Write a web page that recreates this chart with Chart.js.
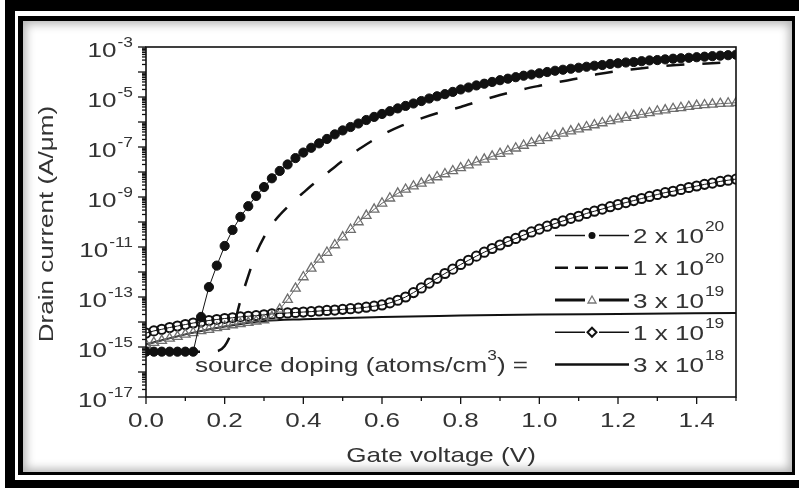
<!DOCTYPE html>
<html>
<head>
<meta charset="utf-8">
<script src="https://cdn.jsdelivr.net/npm/chart.js@4.4.1/dist/chart.umd.min.js"></script>
<style>
html,body{margin:0;padding:0;background:#fff;}
#wrap{position:relative;width:799px;height:488px;overflow:hidden;background:#fff;}
#outer{position:absolute;left:5px;top:0;width:794px;height:488px;box-sizing:border-box;border-top:11px solid #000;border-left:10px solid #000;border-bottom:8px solid #000;}
#inner{position:absolute;left:18px;top:16px;width:777px;height:459px;box-sizing:border-box;border-style:solid;border-color:#000;border-width:5px 3px 3px 5px;box-shadow:inset 0 0 10px 3px rgba(0,0,0,0.3);}
#chart{position:absolute;left:0;top:0;}
</style>
</head>
<body>
<div id="wrap">
  <div id="outer"></div>
  <div id="inner"></div>
  <canvas id="chart" width="799" height="488"></canvas>
</div>
<script>
// gate voltage grid (V) for the marker curves
const vGrid = [
  0, 0.02, 0.04, 0.06, 0.08, 0.1, 0.12, 0.14, 0.16, 0.18,
  0.2, 0.22, 0.24, 0.26, 0.28, 0.3, 0.32, 0.34, 0.36, 0.38,
  0.4, 0.42, 0.44, 0.46, 0.48, 0.5, 0.52, 0.54, 0.56, 0.58,
  0.6, 0.62, 0.64, 0.66, 0.68, 0.7, 0.72, 0.74, 0.76, 0.78,
  0.8, 0.82, 0.84, 0.86, 0.88, 0.9, 0.92, 0.94, 0.96, 0.98,
  1.0, 1.02, 1.04, 1.06, 1.08, 1.1, 1.12, 1.14, 1.16, 1.18,
  1.2, 1.22, 1.24, 1.26, 1.28, 1.3, 1.32, 1.34, 1.36, 1.38,
  1.4, 1.42, 1.44, 1.46, 1.48, 1.5
];
// drain current (A/um), source doping 2e20
const doping2e20 = [
  6.5e-16, 6.5e-16, 6.5e-16, 6.5e-16, 6.5e-16, 6.5e-16, 6.5e-16, 1.6e-14, 2.5e-13, 1.8e-12,
  1.1e-11, 4.8e-11, 1.6e-10, 4.3e-10, 1.1e-9, 2.5e-9, 5.6e-9, 1.1e-8, 2.0e-8, 3.6e-8,
  6.0e-8, 9.3e-8, 1.4e-7, 2.1e-7, 3.2e-7, 4.6e-7, 6.3e-7, 8.7e-7, 1.2e-6, 1.6e-6,
  2.1e-6, 2.7e-6, 3.5e-6, 4.4e-6, 5.5e-6, 6.9e-6, 8.7e-6, 1.07e-5, 1.3e-5, 1.6e-5,
  2.0e-5, 2.4e-5, 2.9e-5, 3.4e-5, 4.0e-5, 4.7e-5, 5.4e-5, 6.2e-5, 7.1e-5, 7.9e-5,
  8.9e-5, 1.0e-4, 1.12e-4, 1.23e-4, 1.35e-4, 1.48e-4, 1.62e-4, 1.78e-4, 1.9e-4, 2.1e-4,
  2.24e-4, 2.4e-4, 2.5e-4, 2.7e-4, 2.9e-4, 3.0e-4, 3.2e-4, 3.4e-4, 3.55e-4, 3.7e-4,
  3.9e-4, 4.1e-4, 4.3e-4, 4.5e-4, 4.7e-4, 4.9e-4
];
// source doping 3e19 (triangles)
const doping3e19 = [
  1.26e-15, 1.5e-15, 1.8e-15, 2.2e-15, 2.6e-15, 3.2e-15, 3.7e-15, 4.4e-15, 5.0e-15, 5.8e-15,
  6.6e-15, 7.6e-15, 8.5e-15, 9.5e-15, 1.07e-14, 1.2e-14, 1.6e-14, 3.2e-14, 7.9e-14, 2.2e-13,
  6.3e-13, 1.4e-12, 3.2e-12, 6.0e-12, 1.2e-11, 2.5e-11, 5.0e-11, 1.0e-10, 1.8e-10, 3.2e-10,
  5.6e-10, 8.9e-10, 1.4e-9, 2.0e-9, 2.7e-9, 3.5e-9, 4.7e-9, 6.3e-9, 8.3e-9, 1.1e-8,
  1.45e-8, 1.9e-8, 2.5e-8, 3.2e-8, 4.2e-8, 5.4e-8, 6.9e-8, 8.9e-8, 1.15e-7, 1.45e-7,
  1.8e-7, 2.3e-7, 2.8e-7, 3.5e-7, 4.3e-7, 5.2e-7, 6.3e-7, 7.6e-7, 9.1e-7, 1.1e-6,
  1.3e-6, 1.5e-6, 1.8e-6, 2.0e-6, 2.3e-6, 2.7e-6, 3.0e-6, 3.4e-6, 3.7e-6, 4.1e-6,
  4.5e-6, 4.8e-6, 5.1e-6, 5.4e-6, 5.6e-6, 5.9e-6
];
// source doping 1e19 (open circles)
const doping1e19 = [
  3.6e-15, 4.4e-15, 5.1e-15, 6.0e-15, 6.9e-15, 7.9e-15, 9.1e-15, 1.02e-14, 1.15e-14, 1.26e-14,
  1.38e-14, 1.48e-14, 1.6e-14, 1.7e-14, 1.8e-14, 1.95e-14, 2.1e-14, 2.2e-14, 2.3e-14, 2.4e-14,
  2.5e-14, 2.6e-14, 2.75e-14, 2.9e-14, 3.0e-14, 3.2e-14, 3.4e-14, 3.6e-14, 3.9e-14, 4.3e-14,
  4.8e-14, 5.8e-14, 7.4e-14, 1.0e-13, 1.5e-13, 2.3e-13, 3.6e-13, 5.6e-13, 8.7e-13, 1.3e-12,
  2.0e-12, 2.95e-12, 4.3e-12, 6.2e-12, 8.7e-12, 1.2e-11, 1.66e-11, 2.2e-11, 3.0e-11, 4.0e-11,
  5.2e-11, 6.8e-11, 8.7e-11, 1.1e-10, 1.4e-10, 1.7e-10, 2.2e-10, 2.7e-10, 3.3e-10, 4.1e-10,
  5.0e-10, 6.0e-10, 7.2e-10, 8.7e-10, 1.05e-9, 1.26e-9, 1.5e-9, 1.7e-9, 2.0e-9, 2.4e-9,
  2.75e-9, 3.2e-9, 3.6e-9, 4.2e-9, 4.7e-9, 5.2e-9
];
// source doping 1e20 (dashed, no markers)
const vDash = [
  0, 0.16, 0.18, 0.2, 0.22, 0.24, 0.26, 0.28, 0.3, 0.32,
  0.34, 0.36, 0.38, 0.4, 0.42, 0.44, 0.46, 0.48, 0.5, 0.55,
  0.6, 0.65, 0.7, 0.75, 0.8, 0.85, 0.9, 0.95, 1.0, 1.05,
  1.1, 1.15, 1.2, 1.25, 1.3, 1.35, 1.4, 1.45, 1.5
];
const doping1e20 = [
  6.5e-16, 6.5e-16, 6.8e-16, 1.1e-15, 5.0e-15, 7.0e-14, 7.0e-13, 5.6e-12, 2.5e-11, 7.9e-11,
  1.9e-10, 4.0e-10, 8.0e-10, 1.5e-9, 2.8e-9, 5.0e-9, 8.9e-9, 1.6e-8, 2.8e-8, 1.0e-7,
  3.0e-7, 7.1e-7, 1.4e-6, 2.5e-6, 4.0e-6, 7.1e-6, 1.2e-5, 1.9e-5, 2.8e-5, 4.0e-5,
  5.6e-5, 8.3e-5, 1.1e-4, 1.35e-4, 1.66e-4, 1.9e-4, 2.1e-4, 2.3e-4, 2.45e-4
];
// source doping 3e18 (solid line)
const vSolid = [0, 0.1, 0.2, 0.3, 0.4, 0.6, 0.8, 1.0, 1.2, 1.5];
const doping3e18 = [1.26e-15, 3.2e-15, 6.6e-15, 1.1e-14, 1.3e-14, 1.6e-14, 1.8e-14, 2.0e-14, 2.1e-14, 2.3e-14];

// axes
const xTicks = [0, 0.2, 0.4, 0.6, 0.8, 1.0, 1.2, 1.4];
const xTickLabels = ['0.0', '0.2', '0.4', '0.6', '0.8', '1.0', '1.2', '1.4'];
const xMinor = [0.1, 0.3, 0.5, 0.7, 0.9, 1.1, 1.3, 1.5];
const yLabelExps = [-3, -5, -7, -9, -11, -13, -15, -17];
const yDecades = [-17, -16, -15, -14, -13, -12, -11, -10, -9, -8, -7, -6, -5, -4, -3];
const legendBase = ['2 x 10', '1 x 10', '3 x 10', '1 x 10', '3 x 10'];
const legendExp = ['20', '20', '19', '19', '18'];

const FONT = '"Liberation Sans", Arial, Helvetica, sans-serif';
const SX = 1.24;    // the original lettering is a wide sans
const INK = '#333';

function wtext(ctx, s, x, y, size, align){
    ctx.save();
    ctx.font = size + 'px ' + FONT;
    const w = ctx.measureText(s).width * SX;
    let x0 = x;
    if(align === 'right') x0 = x - w;
    if(align === 'center') x0 = x - w/2;
    ctx.translate(x0, y); ctx.scale(SX, 1);
    ctx.textAlign = 'left'; ctx.textBaseline = 'alphabetic';
    ctx.fillText(s, 0, 0);
    ctx.restore();
    return w;
}
function tw(ctx, s, size){ ctx.save(); ctx.font = size + 'px ' + FONT; const w = ctx.measureText(s).width * SX; ctx.restore(); return w; }
function seg(ctx, x1, y1, x2, y2){ ctx.beginPath(); ctx.moveTo(x1, y1); ctx.lineTo(x2, y2); ctx.stroke(); }

const decoPlugin = {
    id: 'deco',
    afterDraw(chart){
        const {ctx, chartArea: a, scales: {x, y}} = chart;
        ctx.save();
        ctx.strokeStyle = '#111'; ctx.fillStyle = INK;

        // frame
        ctx.lineWidth = 1.6;
        ctx.strokeRect(a.left, a.top, a.right - a.left, a.bottom - a.top);

        // y ticks, outward
        ctx.lineWidth = 1.3;
        yDecades.forEach(e => {
            const p = y.getPixelForValue(Math.pow(10, e));
            seg(ctx, a.left - 8, p, a.left, p);
            if(e < -3) for(let k = 2; k <= 9; k++){
                const q = y.getPixelForValue(k * Math.pow(10, e));
                seg(ctx, a.left - 4, q, a.left, q);
            }
        });
        // x ticks
        xTicks.forEach(v => { const p = x.getPixelForValue(v); seg(ctx, p, a.bottom, p, a.bottom + 7); });
        xMinor.forEach(v => { const p = x.getPixelForValue(v); seg(ctx, p, a.bottom, p, a.bottom + 4); });

        // tick labels
        yLabelExps.forEach(e => {
            const p = y.getPixelForValue(Math.pow(10, e));
            const ew = wtext(ctx, String(e), 133, p, 14, 'right');
            wtext(ctx, '10', 133 - ew - 1, p + 10, 21, 'right');
        });
        xTicks.forEach((v, i) => wtext(ctx, xTickLabels[i], x.getPixelForValue(v), a.bottom + 30, 21, 'center'));

        // axis titles
        wtext(ctx, 'Gate voltage (V)', (a.left + a.right)/2, 462, 21, 'center');
        ctx.save();
        ctx.translate(53, (a.top + a.bottom)/2 + 2); ctx.rotate(-Math.PI/2);
        wtext(ctx, 'Drain current (A/\u03BCm)', 0, 0, 21, 'center');
        ctx.restore();

        // legend
        const lx1 = 555, lx2 = 629, mx = 592, tx = 633;
        const base0 = 243, step = 32.25;
        for(let i = 0; i < 5; i++){
            const b = base0 + step * i, cy = b - 7.5;
            ctx.save();
            ctx.strokeStyle = '#111';
            if(i === 0){
                ctx.lineWidth = 1.5;
                seg(ctx, lx1, cy, mx - 7, cy); seg(ctx, mx + 7, cy, lx2, cy);
                ctx.fillStyle = '#111'; ctx.beginPath(); ctx.arc(mx, cy, 3.5, 0, Math.PI*2); ctx.fill();
            } else if(i === 1){
                ctx.lineWidth = 2.5; ctx.setLineDash([13, 7]);
                seg(ctx, lx1, cy, lx2, cy);
            } else if(i === 2){
                ctx.lineWidth = 3;
                seg(ctx, lx1, cy, mx - 7, cy); seg(ctx, mx + 7, cy, lx2, cy);
                ctx.strokeStyle = '#777'; ctx.lineWidth = 1.3;
                ctx.beginPath(); ctx.moveTo(mx, cy - 4); ctx.lineTo(mx + 4, cy + 3); ctx.lineTo(mx - 4, cy + 3); ctx.closePath(); ctx.stroke();
            } else if(i === 3){
                ctx.lineWidth = 1.5;
                seg(ctx, lx1, cy, mx - 7, cy); seg(ctx, mx + 7, cy, lx2, cy);
                ctx.lineWidth = 2;
                ctx.beginPath(); ctx.moveTo(mx, cy - 4.5); ctx.lineTo(mx + 4.5, cy); ctx.lineTo(mx, cy + 4.5); ctx.lineTo(mx - 4.5, cy); ctx.closePath(); ctx.stroke();
            } else {
                ctx.lineWidth = 2.5;
                seg(ctx, lx1, cy, lx2, cy);
            }
            ctx.restore();
            const w = wtext(ctx, legendBase[i], tx, b, 21, 'left');
            wtext(ctx, legendExp[i], tx + w + 1, b - 12, 14, 'left');
        }
        // legend caption
        const p1 = 'source doping (atoms/cm', p2 = '3', p3 = ') =';
        const total = tw(ctx, p1, 21) + tw(ctx, p2, 14) + tw(ctx, p3, 21);
        let cx = 528 - total;
        const cb = base0 + step * 4;
        cx += wtext(ctx, p1, cx, cb, 21, 'left');
        cx += wtext(ctx, p2, cx, cb - 12, 14, 'left');
        wtext(ctx, p3, cx, cb, 21, 'left');

        ctx.restore();
    }
};

const pts = (xs, ys) => xs.map((v, i) => ({x: v, y: ys[i]}));

new Chart(document.getElementById('chart'), {
    type: 'line',
    data: {
        datasets: [
            {label: '2 x 10^20', data: pts(vGrid, doping2e20), borderColor: '#111', borderWidth: 1,
             pointStyle: 'circle', pointRadius: 4.6, pointBackgroundColor: '#111', pointBorderColor: '#111', pointBorderWidth: 1, order: 1},
            {label: '1 x 10^20', data: pts(vDash, doping1e20), borderColor: '#111', borderWidth: 2.5,
             borderDash: [18, 18], pointRadius: 0, cubicInterpolationMode: 'monotone', order: 2},
            {label: '3 x 10^19', data: pts(vGrid, doping3e19), borderColor: '#666', borderWidth: 1,
             pointStyle: 'triangle', pointRadius: 5.5, pointBackgroundColor: 'rgba(255,255,255,0)', pointBorderColor: '#6e6e6e', pointBorderWidth: 1.3, order: 3},
            {label: '1 x 10^19', data: pts(vGrid, doping1e19), borderColor: '#111', borderWidth: 1,
             pointStyle: 'circle', pointRadius: 4.6, pointBackgroundColor: 'rgba(255,255,255,0)', pointBorderColor: '#111', pointBorderWidth: 2, order: 4},
            {label: '3 x 10^18', data: pts(vSolid, doping3e18), borderColor: '#111', borderWidth: 2, pointRadius: 0,
             cubicInterpolationMode: 'monotone', order: 5}
        ]
    },
    options: {
        responsive: false, animation: false, devicePixelRatio: 1,
        layout: {padding: {left: 146, top: 47, right: 63, bottom: 91}},
        elements: {line: {tension: 0}},
        plugins: {legend: {display: false}, tooltip: {enabled: false}},
        scales: {
            x: {type: 'linear', min: 0, max: 1.5, display: false},
            y: {type: 'logarithmic', min: 1e-17, max: 1e-3, display: false}
        }
    },
    plugins: [decoPlugin]
});
</script>
</body>
</html>
